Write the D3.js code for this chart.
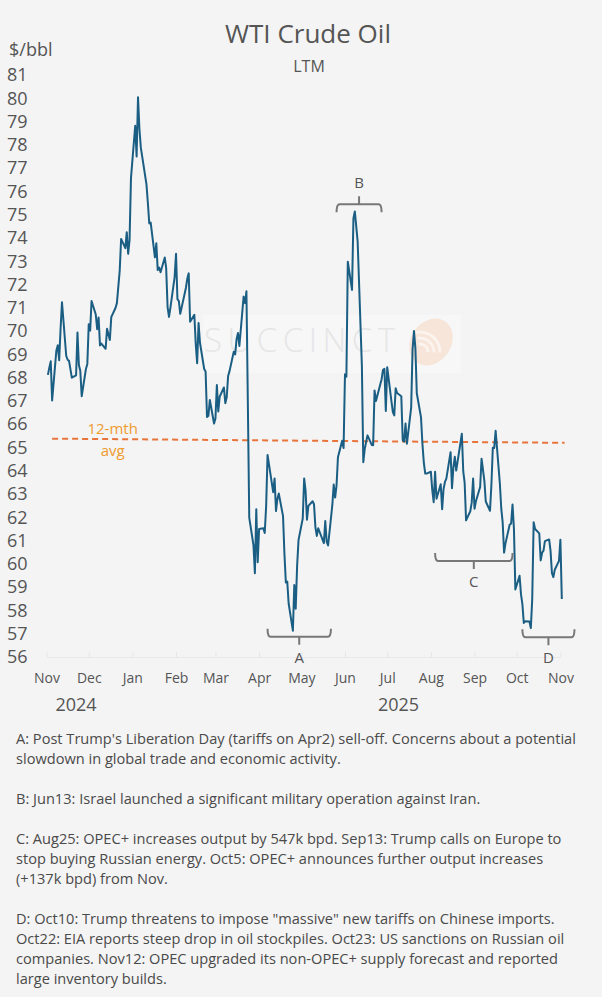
<!DOCTYPE html>
<html>
<head>
<meta charset="utf-8">
<script src="https://cdn.jsdelivr.net/npm/d3@7"></script>
<style>
  body { margin: 0; background: #f4f4f4; }
  svg { display: block; font-family: "Open Sans", sans-serif; }
</style>
</head>
<body>
<svg id="chart" width="602" height="997"></svg>
<script>
// WTI daily closes, last twelve months
var days = [
  "2024-11-12","2024-11-13","2024-11-14","2024-11-15","2024-11-18","2024-11-19","2024-11-20","2024-11-21","2024-11-22","2024-11-25","2024-11-26","2024-11-27","2024-11-29",
  "2024-12-02","2024-12-03","2024-12-04","2024-12-05","2024-12-06","2024-12-09","2024-12-10","2024-12-11","2024-12-12","2024-12-13","2024-12-16","2024-12-17","2024-12-18","2024-12-19","2024-12-20","2024-12-23","2024-12-24","2024-12-26","2024-12-27","2024-12-30","2024-12-31",
  "2025-01-02","2025-01-03","2025-01-06","2025-01-07","2025-01-08","2025-01-09","2025-01-10","2025-01-13","2025-01-14","2025-01-15","2025-01-16","2025-01-17","2025-01-21","2025-01-22","2025-01-23","2025-01-24","2025-01-27","2025-01-28","2025-01-29","2025-01-30","2025-01-31",
  "2025-02-03","2025-02-04","2025-02-05","2025-02-06","2025-02-07","2025-02-10","2025-02-11","2025-02-12","2025-02-13","2025-02-14","2025-02-18","2025-02-19","2025-02-20","2025-02-21","2025-02-24","2025-02-25","2025-02-26","2025-02-27","2025-02-28",
  "2025-03-03","2025-03-04","2025-03-05","2025-03-06","2025-03-07","2025-03-10","2025-03-11","2025-03-12","2025-03-13","2025-03-14","2025-03-17","2025-03-18","2025-03-19","2025-03-20","2025-03-21","2025-03-24","2025-03-25","2025-03-26","2025-03-27","2025-03-28","2025-03-31",
  "2025-04-01","2025-04-02","2025-04-03","2025-04-04","2025-04-07","2025-04-08","2025-04-09","2025-04-10","2025-04-11","2025-04-14","2025-04-15","2025-04-16","2025-04-17","2025-04-21","2025-04-22","2025-04-23","2025-04-24","2025-04-25","2025-04-28","2025-04-29","2025-04-30",
  "2025-05-01","2025-05-02","2025-05-05","2025-05-06","2025-05-07","2025-05-08","2025-05-09","2025-05-12","2025-05-13","2025-05-14","2025-05-15","2025-05-16","2025-05-19","2025-05-20","2025-05-21","2025-05-22","2025-05-23","2025-05-27","2025-05-28","2025-05-29","2025-05-30",
  "2025-06-02","2025-06-03","2025-06-04","2025-06-05","2025-06-06","2025-06-09","2025-06-10","2025-06-11","2025-06-12","2025-06-13","2025-06-16","2025-06-17","2025-06-18","2025-06-20","2025-06-23","2025-06-24","2025-06-25","2025-06-26","2025-06-27","2025-06-30",
  "2025-07-01","2025-07-02","2025-07-03","2025-07-07","2025-07-08","2025-07-09","2025-07-10","2025-07-11","2025-07-14","2025-07-15","2025-07-16","2025-07-17","2025-07-18","2025-07-21","2025-07-22","2025-07-23","2025-07-24","2025-07-25","2025-07-28","2025-07-29","2025-07-30","2025-07-31",
  "2025-08-01","2025-08-04","2025-08-05","2025-08-06","2025-08-07","2025-08-08","2025-08-11","2025-08-12","2025-08-13","2025-08-14","2025-08-15","2025-08-18","2025-08-19","2025-08-20","2025-08-21","2025-08-22","2025-08-25","2025-08-26","2025-08-27","2025-08-28","2025-08-29",
  "2025-09-02","2025-09-03","2025-09-04","2025-09-05","2025-09-08","2025-09-09","2025-09-10","2025-09-11","2025-09-12","2025-09-15","2025-09-16","2025-09-17","2025-09-18","2025-09-19","2025-09-22","2025-09-23","2025-09-24","2025-09-25","2025-09-26","2025-09-29","2025-09-30",
  "2025-10-01","2025-10-02","2025-10-03","2025-10-06","2025-10-07","2025-10-08","2025-10-09","2025-10-10","2025-10-13","2025-10-14","2025-10-15","2025-10-16","2025-10-17","2025-10-20","2025-10-21","2025-10-22","2025-10-23","2025-10-24","2025-10-27","2025-10-28","2025-10-29","2025-10-30","2025-10-31",
  "2025-11-03","2025-11-04","2025-11-05","2025-11-06","2025-11-07","2025-11-10","2025-11-11","2025-11-12"
];
var prices = [
  68.12,68.43,68.70,67.02,69.16,69.39,68.75,70.10,71.24,68.94,68.77,68.72,68.00,
  68.10,69.94,68.54,68.30,67.20,68.37,68.59,70.29,70.02,71.29,70.71,70.08,70.58,69.38,69.46,69.24,70.10,69.62,70.60,70.99,71.20,
  72.60,73.96,73.56,74.25,73.32,73.92,76.57,78.82,77.50,80.04,78.68,77.88,76.30,75.50,74.62,74.66,73.17,73.77,72.62,72.73,72.53,
  73.16,72.70,71.03,70.61,71.00,72.32,73.32,71.37,71.29,70.74,71.85,72.25,72.48,70.40,70.70,69.45,68.62,70.35,69.50,
  68.37,68.26,66.31,66.36,67.04,66.03,66.25,67.68,66.55,67.18,67.58,66.90,67.16,68.07,68.28,69.11,69.00,69.65,69.92,69.36,71.48,
  71.20,71.71,66.95,61.99,60.80,59.60,62.35,60.07,61.50,61.53,61.33,62.47,64.68,63.08,63.67,62.27,62.79,63.02,62.05,60.42,59.20,
  59.24,58.29,57.13,59.09,58.07,59.91,61.02,61.95,63.67,63.15,61.90,62.49,62.69,62.56,61.57,61.20,61.53,60.89,61.84,60.94,60.79,
  62.52,63.41,62.85,63.37,64.58,65.29,64.98,68.15,68.04,72.98,71.77,74.84,75.14,73.84,68.51,64.37,64.92,65.24,65.52,65.11,
  65.10,67.45,67.00,67.93,68.33,68.38,66.57,68.45,66.98,66.52,66.38,67.54,67.34,67.20,65.31,65.25,66.03,65.16,66.71,69.21,70.00,69.26,
  67.33,66.29,65.16,64.35,63.88,63.88,63.96,63.17,62.65,63.96,62.80,63.42,62.35,63.21,63.52,63.66,64.80,63.25,64.15,64.60,64.01,
  65.59,63.97,63.48,61.87,62.26,62.63,63.67,62.37,62.69,63.30,64.52,64.05,63.57,62.68,62.28,63.41,64.99,64.98,65.72,63.45,62.37,
  61.78,60.48,60.88,61.69,61.73,62.55,61.51,58.90,59.49,58.70,58.27,57.46,57.54,57.52,57.24,58.50,61.79,61.50,61.31,60.15,60.48,60.57,60.98,
  61.05,60.56,59.60,59.43,59.75,60.13,61.04,58.49
];

// 12-month average line
var avgDays = ["2024-11-15", "2025-11-14"];
var avgValues = [65.38, 65.20];

var yTicks = [56,57,58,59,60,61,62,63,64,65,66,67,68,69,70,71,72,73,74,75,76,77,78,79,80,81];
var monthTicks = ["2024-11-11","2024-12-11","2025-01-11","2025-02-11","2025-03-11","2025-04-11","2025-05-11",
  "2025-06-11","2025-07-11","2025-08-11","2025-09-11","2025-10-11","2025-11-11"];
var yearLabels = ["2024", "2025"];
var yearDays = ["2024-12-02", "2025-07-19"];

// annotation brackets
var noteLabels = ["A", "B", "C", "D"];
var noteFrom = ["2025-04-17", "2025-06-05", "2025-08-14", "2025-10-15"];
var noteTo = ["2025-06-01", "2025-07-07", "2025-10-08", "2025-11-21"];
var noteLevel = [56.87, 75.45, 60.12, 56.85];
var noteAbove = [false, true, false, false];

var footnotes = [
  "A: Post Trump's Liberation Day (tariffs on Apr2) sell-off. Concerns about a potential",
  "slowdown in global trade and economic activity.",
  "",
  "B: Jun13: Israel launched a significant military operation against Iran.",
  "",
  "C: Aug25: OPEC+ increases output by 547k bpd. Sep13: Trump calls on Europe to",
  "stop buying Russian energy. Oct5: OPEC+ announces further output increases",
  "(+137k bpd) from Nov.",
  "",
  "D: Oct10: Trump threatens to impose \"massive\" new tariffs on Chinese imports.",
  "Oct22: EIA reports steep drop in oil stockpiles. Oct23: US sanctions on Russian oil",
  "companies. Nov12: OPEC upgraded its non-OPEC+ supply forecast and reported",
  "large inventory builds."
];

var parseDay = d3.timeParse("%Y-%m-%d");
var textColor = "#555";
var font = '"Open Sans", sans-serif';

var data = days.map(function(d, i) {
  return {date: parseDay(d), price: prices[i]};
});
var avgData = avgDays.map(function(d, i) {
  return {date: parseDay(d), price: avgValues[i]};
});

var svg = d3.select("#chart");

var x = d3.scaleTime()
  .domain([parseDay(monthTicks[0]), parseDay(monthTicks[monthTicks.length - 1])])
  .range([46.5, 560.4]);
var y = d3.scaleLinear()
  .domain([56, 81])
  .range([657, 75]);

svg.append("rect")
  .attr("width", 602)
  .attr("height", 997)
  .attr("fill", "#f4f4f4");

// faint watermark
var mark = svg.append("g");
mark.append("rect")
  .attr("x", 203).attr("y", 315)
  .attr("width", 258).attr("height", 58)
  .attr("fill", "#f7f7f7");
mark.append("text")
  .attr("x", 204).attr("y", 352)
  .attr("font-size", "33px")
  .attr("font-weight", 300)
  .attr("letter-spacing", "5.5px")
  .attr("fill", "#e6e6e6")
  .text("SUCCINCT");
mark.append("ellipse")
  .attr("cx", 431).attr("cy", 342)
  .attr("rx", 20).attr("ry", 25)
  .attr("transform", "rotate(35, 431, 342)")
  .attr("fill", "#f6e5d8");
[8, 14, 20].forEach(function(r) {
  mark.append("path")
    .attr("d", d3.arc()({innerRadius: r - 1.5, outerRadius: r + 1.5, startAngle: -0.9, endAngle: 0.9}))
    .attr("transform", "translate(420, 352) rotate(40)")
    .attr("fill", "#fbf3ee");
});

// titles
svg.append("text")
  .attr("x", 308).attr("y", 43)
  .attr("text-anchor", "middle")
  .attr("font-size", "26px")
  .attr("fill", textColor)
  .text("WTI Crude Oil");
svg.append("text")
  .attr("x", 309).attr("y", 72)
  .attr("text-anchor", "middle")
  .attr("font-size", "16px")
  .attr("fill", textColor)
  .text("LTM");
svg.append("text")
  .attr("x", 9).attr("y", 56)
  .attr("font-size", "18px")
  .attr("fill", textColor)
  .text("$/bbl");

// y axis, labels only
var yAxis = d3.axisLeft(y)
  .tickValues(yTicks)
  .tickSize(0)
  .tickFormat(d3.format("d"));
var yg = svg.append("g")
  .call(yAxis)
  .attr("font-family", font)
  .attr("font-size", "18px");
yg.select(".domain").remove();
yg.selectAll("text")
  .attr("x", 7)
  .attr("text-anchor", "start")
  .attr("fill", textColor);

// x axis with month ticks
var xAxis = d3.axisBottom(x)
  .tickValues(monthTicks.map(parseDay))
  .tickFormat(d3.timeFormat("%b"))
  .tickSizeInner(-5)
  .tickSizeOuter(0)
  .tickPadding(16);
var xg = svg.append("g")
  .attr("transform", "translate(0, 657)")
  .call(xAxis)
  .attr("font-family", font)
  .attr("font-size", "14px");
xg.select(".domain").attr("stroke", "#e9e9e9");
xg.selectAll(".tick line").attr("stroke", "#e6e6e6");
xg.selectAll("text").attr("fill", textColor);

svg.append("g")
  .selectAll(".year")
  .data(yearLabels)
  .enter().append("text")
    .attr("class", "year")
    .attr("x", function(d, i) { return x(parseDay(yearDays[i])); })
    .attr("y", 711)
    .attr("text-anchor", "middle")
    .attr("font-size", "18px")
    .attr("fill", textColor)
    .text(function(d) { return d; });

// 12-month average
var line = d3.line()
  .x(function(d) { return x(d.date); })
  .y(function(d) { return y(d.price); });

svg.append("path")
  .datum(avgData)
  .attr("d", line)
  .attr("fill", "none")
  .attr("stroke", "#e8743b")
  .attr("stroke-width", 2)
  .attr("stroke-dasharray", "6,4");

var avgLabelX = x(parseDay("2024-12-28"));
svg.append("text")
  .attr("x", avgLabelX).attr("y", y(avgValues[0]) - 5)
  .attr("text-anchor", "middle")
  .attr("font-size", "15px")
  .attr("fill", "#ef9b2e")
  .text("12-mth");
svg.append("text")
  .attr("x", avgLabelX).attr("y", y(avgValues[0]) + 17)
  .attr("text-anchor", "middle")
  .attr("font-size", "15px")
  .attr("fill", "#ef9b2e")
  .text("avg");

// price line
svg.append("path")
  .datum(data)
  .attr("d", line)
  .attr("fill", "none")
  .attr("stroke", "#1b5e83")
  .attr("stroke-width", 2)
  .attr("stroke-linejoin", "round");

// brackets
noteLabels.forEach(function(label, i) {
  var x0 = x(parseDay(noteFrom[i]));
  var x1 = x(parseDay(noteTo[i]));
  var xm = (x0 + x1) / 2;
  var yl = y(noteLevel[i]);
  var s = noteAbove[i] ? 1 : -1;
  svg.append("path")
    .attr("d", "M" + x0 + "," + (yl + s * 8) + " Q" + x0 + "," + yl + " " + (x0 + 3) + "," + yl
      + " L" + (x1 - 3) + "," + yl + " Q" + x1 + "," + yl + " " + x1 + "," + (yl + s * 8)
      + " M" + xm + "," + yl + " L" + xm + "," + (yl - s * 8))
    .attr("fill", "none")
    .attr("stroke", "#777")
    .attr("stroke-width", 2);
  svg.append("text")
    .attr("x", xm)
    .attr("y", yl - s * 21)
    .attr("dy", "0.35em")
    .attr("text-anchor", "middle")
    .attr("font-size", "15px")
    .attr("fill", textColor)
    .text(label);
});

// footnotes
svg.append("g")
  .selectAll(".note")
  .data(footnotes)
  .enter().append("text")
    .attr("class", "note")
    .attr("x", 16)
    .attr("y", function(d, i) { return 739 + i * 19.95; })
    .attr("dy", "0.35em")
    .attr("font-size", "14.6px")
    .attr("fill", "#4a4a4a")
    .text(function(d) { return d; });
</script>
</body>
</html>
